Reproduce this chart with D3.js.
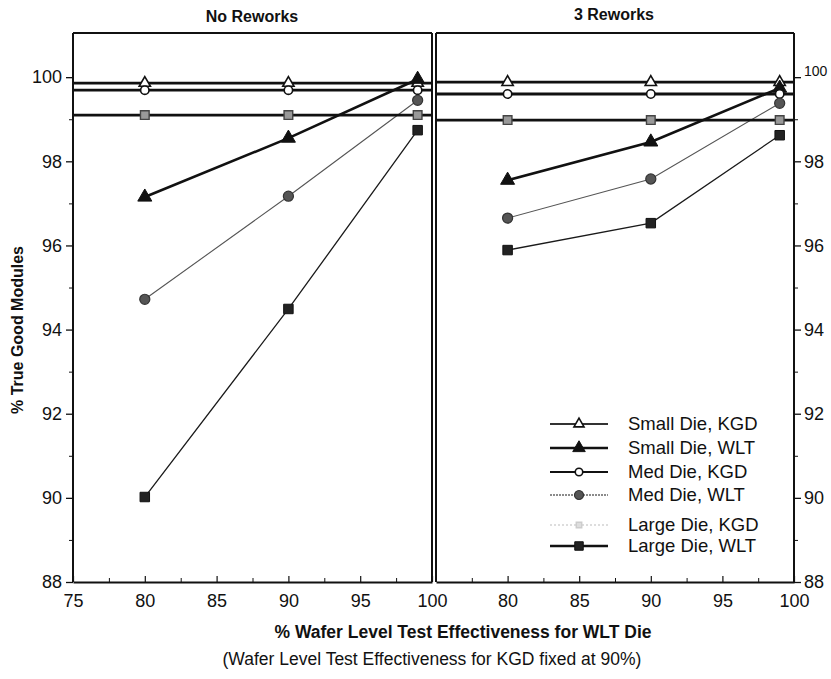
<!DOCTYPE html>
<html>
<head>
<meta charset="utf-8">
<script src="https://cdn.jsdelivr.net/npm/d3@7/dist/d3.min.js"></script>
<style>
  html, body { margin: 0; padding: 0; background: #fff; }
  svg { display: block; }
  text { font-family: "Liberation Sans", Arial, Helvetica, sans-serif; fill: #111; }
  .narrow { font-family: "Liberation Sans Narrow", "Arial Narrow", "Liberation Sans", Arial, sans-serif; }
</style>
</head>
<body>
<svg id="chart" width="831" height="679"></svg>
<script>
// ---- data ----
const seriesNames = ["Small Die, KGD", "Small Die, WLT", "Med Die, KGD", "Med Die, WLT", "Large Die, KGD", "Large Die, WLT"];
const wltEffectiveness = [80, 90, 99];
const xTickValues = [75, 80, 85, 90, 95, 100];
const yTickValues = [88, 90, 92, 94, 96, 98, 100];
const panelTitles = ["No Reworks", "3 Reworks"];

// % true good modules, one row per series (same order as seriesNames)
const noReworkValues = [
  [99.86, 99.86, 99.86],
  [97.15, 98.55, 99.95],
  [99.69, 99.69, 99.69],
  [94.72, 97.17, 99.45],
  [99.10, 99.10, 99.10],
  [90.02, 94.49, 98.74]
];
const threeReworkValues = [
  [99.88, 99.88, 99.88],
  [97.55, 98.46, 99.74],
  [99.60, 99.60, 99.60],
  [96.65, 97.58, 99.38],
  [98.98, 98.98, 98.98],
  [95.89, 96.53, 98.62]
];
// KGD series are independent of WLT effectiveness (KGD test fixed at 90%)
const isKGD = [true, false, true, false, true, false];

// ---- styles ----
const lineStyle = [
  { w: 2.8, c: "#111", dash: null },
  { w: 2.6, c: "#111", dash: null },
  { w: 2.8, c: "#111", dash: null },
  { w: 1.1, c: "#555", dash: null },
  { w: 2.8, c: "#111", dash: null },
  { w: 1.3, c: "#1a1a1a", dash: null }
];
const legendLineStyle = [
  { w: 2.2, c: "#333", dash: null },
  { w: 2.6, c: "#111", dash: null },
  { w: 2.0, c: "#111", dash: null },
  { w: 1.4, c: "#666", dash: "2,1" },
  { w: 1.2, c: "#bbb", dash: "2,2" },
  { w: 2.6, c: "#111", dash: null }
];
const markerStyle = [
  { type: d3.symbolTriangle, size: 55, fill: "#fff", stroke: "#111", sw: 1.6 },
  { type: d3.symbolTriangle, size: 85, fill: "#111", stroke: "#111", sw: 1 },
  { type: d3.symbolCircle, size: 55, fill: "#fff", stroke: "#111", sw: 1.6 },
  { type: d3.symbolCircle, size: 80, fill: "#555", stroke: "#333", sw: 1.2 },
  { type: d3.symbolSquare, size: 75, fill: "#999", stroke: "#444", sw: 1.4 },
  { type: d3.symbolSquare, size: 90, fill: "#222", stroke: "#111", sw: 1 }
];

// ---- layout ----
const svg = d3.select("#chart");
const plotTop = 33, plotBottom = 582;
const y = d3.scaleLinear().domain([88, 101.05]).range([plotBottom, plotTop]);
const panels = [
  { x: d3.scaleLinear().domain([75, 100]).range([73, 432]), values: noReworkValues, title: panelTitles[0], titleX: 252, titleY: 22, labelFirst: true },
  { x: d3.scaleLinear().domain([75, 100]).range([436, 794]), values: threeReworkValues, title: panelTitles[1], titleX: 614, titleY: 20, labelFirst: false }
];

const minorY = d3.range(89, 101, 2);
const minorX = [77.5, 82.5, 87.5, 92.5, 97.5];

panels.forEach((p, pi) => {
  const g = svg.append("g");
  const [x0, x1] = p.x.range();

  // frame: top border and both side borders
  g.append("line").attr("x1", x0).attr("x2", x1).attr("y1", plotTop).attr("y2", plotTop)
    .attr("stroke", "#111").attr("stroke-width", 1.8);
  g.append("line").attr("x1", x0).attr("x2", x0).attr("y1", plotTop).attr("y2", plotBottom)
    .attr("stroke", "#111").attr("stroke-width", 2);
  g.append("line").attr("x1", x1).attr("x2", x1).attr("y1", plotTop).attr("y2", plotBottom)
    .attr("stroke", "#111").attr("stroke-width", 2);

  // bottom axis
  const xAxis = d3.axisBottom(p.x).tickValues(p.labelFirst ? xTickValues : xTickValues.slice(1))
    .tickSizeInner(-6).tickSizeOuter(0).tickPadding(12).tickFormat(d3.format("d"));
  const xa = g.append("g").attr("transform", `translate(0,${plotBottom})`).call(xAxis);
  xa.select(".domain").attr("stroke", "#111").attr("stroke-width", 2.2);
  xa.selectAll(".tick line").attr("stroke", "#111").attr("stroke-width", 1.2);
  xa.selectAll("text").attr("class", "narrow").attr("font-size", 18).attr("fill", "#111");
  g.append("g").attr("transform", `translate(0,${plotBottom})`)
    .call(d3.axisBottom(p.x).tickValues(minorX).tickSize(-4).tickFormat(""))
    .call(s => s.select(".domain").remove())
    .selectAll("line").attr("stroke", "#111").attr("stroke-width", 1);

  // y axis: left for first panel, right for second
  const yAxis = (pi === 0 ? d3.axisLeft(y) : d3.axisRight(y)).tickValues(yTickValues)
    .tickSize(7).tickPadding(pi === 0 ? 4 : 3).tickFormat(d3.format("d"));
  const ya = g.append("g").attr("transform", `translate(${pi === 0 ? x0 : x1},0)`).call(yAxis);
  ya.select(".domain").remove();
  ya.selectAll(".tick line").attr("stroke", "#111").attr("stroke-width", 1.3);
  ya.selectAll("text").attr("class", "narrow").attr("fill", "#111")
    .attr("font-size", d => (pi === 1 && d === 100) ? 14 : 18)
    .attr("dy", d => (pi === 1 && d === 100) ? "-0.1em" : "0.32em");
  g.append("g").attr("transform", `translate(${pi === 0 ? x0 : x1},0)`)
    .call((pi === 0 ? d3.axisLeft(y) : d3.axisRight(y)).tickValues(minorY).tickSize(4).tickFormat(""))
    .call(s => s.select(".domain").remove())
    .selectAll("line").attr("stroke", "#111").attr("stroke-width", 1);

  // panel title
  svg.append("text").attr("x", p.titleX).attr("y", p.titleY).attr("text-anchor", "middle")
    .attr("font-size", 16).attr("font-weight", "bold").text(p.title);

  const line = d3.line().x(d => p.x(d[0])).y(d => y(d[1]));

  // KGD reference lines span the full panel, WLT lines join the measured points
  p.values.forEach((vals, si) => {
    const st = lineStyle[si];
    const pts = isKGD[si]
      ? [[75, vals[0]], [100, vals[vals.length - 1]]]
      : wltEffectiveness.map((xv, i) => [xv, vals[i]]);
    g.append("path").datum(pts).attr("d", line).attr("fill", "none")
      .attr("stroke", st.c).attr("stroke-width", st.w)
      .attr("stroke-dasharray", st.dash);
  });

  p.values.forEach((vals, si) => {
    const m = markerStyle[si];
    const sym = d3.symbol().type(m.type).size(m.size);
    g.selectAll(null).data(wltEffectiveness.map((xv, i) => [xv, vals[i]])).join("path")
      .attr("d", sym)
      .attr("transform", d => `translate(${p.x(d[0])},${y(d[1])})`)
      .attr("fill", m.fill).attr("stroke", m.stroke).attr("stroke-width", m.sw);
  });
});

// legend
const legendRows = [424, 448, 472, 495, 525, 546];
const legend = svg.append("g");
seriesNames.forEach((name, i) => {
  const ls = legendLineStyle[i], m = markerStyle[i];
  const row = legend.append("g").attr("transform", `translate(0,${legendRows[i]})`);
  row.append("line").attr("x1", 550).attr("x2", 608).attr("y1", 0).attr("y2", 0)
    .attr("stroke", ls.c).attr("stroke-width", ls.w).attr("stroke-dasharray", ls.dash);
  row.append("path").attr("d", d3.symbol().type(m.type).size(m.size * (i === 4 ? 0.4 : 0.8))())
    .attr("transform", "translate(579,0)")
    .attr("fill", i === 4 ? "#ddd" : m.fill).attr("stroke", i === 4 ? "#ccc" : m.stroke).attr("stroke-width", m.sw);
  row.append("text").attr("x", 628).attr("y", 0).attr("dy", "0.35em")
    .attr("font-size", 18.5).text(name);
});

// axis titles
svg.append("text").attr("transform", "translate(23,330) rotate(-90)").attr("text-anchor", "middle")
  .attr("font-size", 16).attr("font-weight", "bold").text("% True Good Modules");
svg.append("text").attr("x", 463).attr("y", 638).attr("text-anchor", "middle")
  .attr("font-size", 17.5).attr("font-weight", "bold").text("% Wafer Level Test Effectiveness for WLT Die");
svg.append("text").attr("x", 432).attr("y", 665).attr("text-anchor", "middle")
  .attr("font-size", 17.5).text("(Wafer Level Test Effectiveness for KGD fixed at 90%)");
</script>
</body>
</html>
